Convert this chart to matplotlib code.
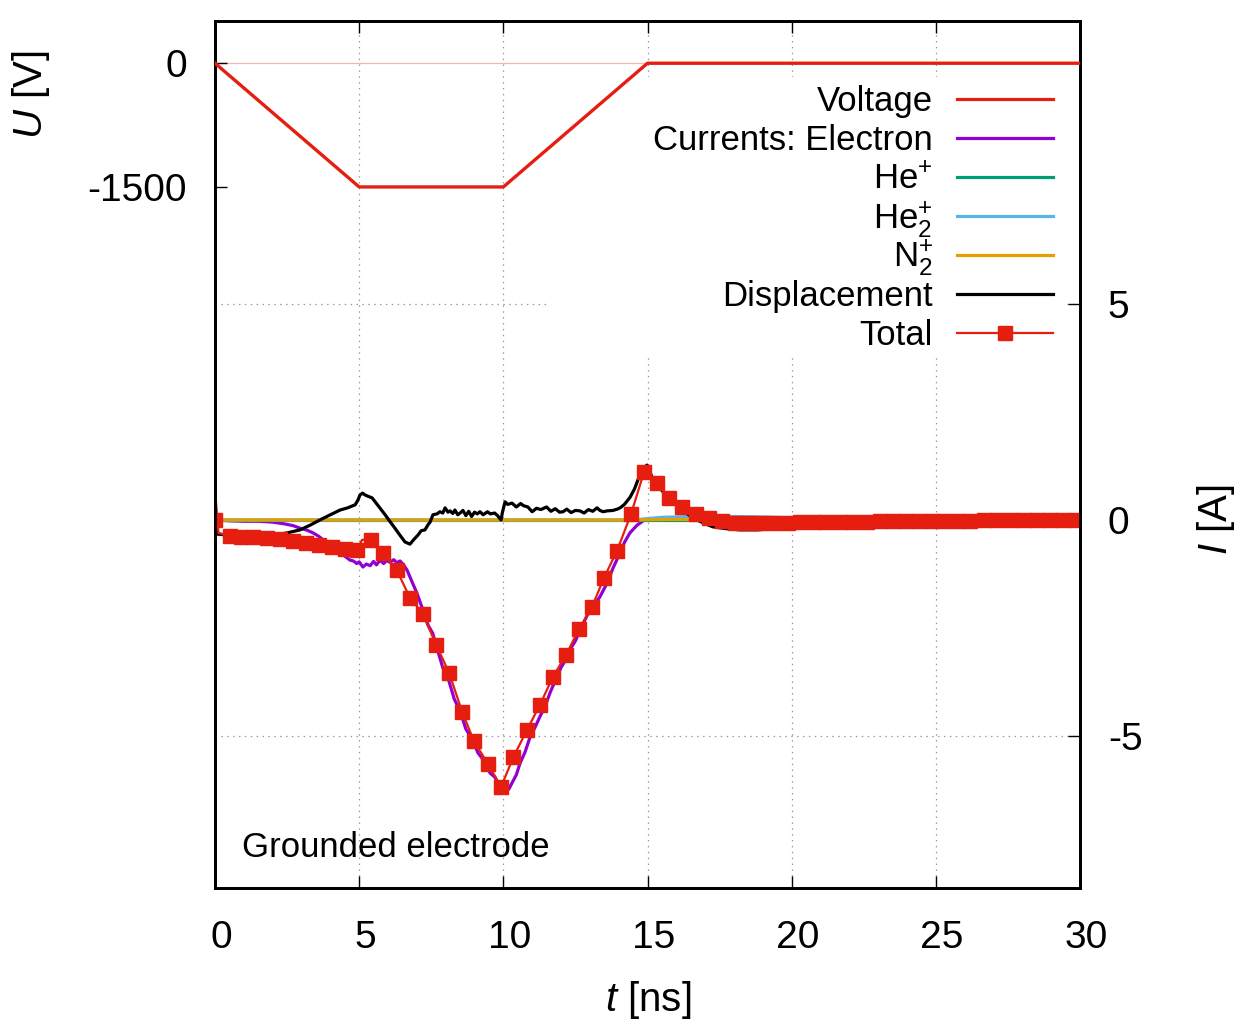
import matplotlib
matplotlib.use('Agg')
import matplotlib.pyplot as plt
from matplotlib.patches import Rectangle
import matplotlib.transforms as mtransforms

plt.rcParams['font.family'] = ['Liberation Sans', 'DejaVu Sans']
plt.rcParams['mathtext.fontset'] = 'custom'
plt.rcParams['mathtext.rm'] = 'Liberation Sans'
plt.rcParams['mathtext.it'] = 'Liberation Sans:italic'
plt.rcParams['mathtext.bf'] = 'Liberation Sans:bold'
plt.rcParams['axes.unicode_minus'] = False

# ---------------- data ----------------
volt_t = [0, 5, 10, 15, 30]
volt_u = [0, -1500, -1500, 0, 0]

elec_t = [0, 0.5, 1.0, 1.5, 2.0, 2.4, 2.7, 2.95, 3.2, 3.4, 3.6, 3.75, 4.0, 4.23, 4.45,
          4.68, 4.8, 4.92, 5.0, 5.13, 5.25, 5.38, 5.5, 5.6, 5.72, 5.85, 5.95, 6.07, 6.2,
          6.3, 6.42, 6.55, 6.66, 6.8, 7.0, 7.21, 7.4, 7.55, 7.7, 7.9, 8.1, 8.3, 8.5, 8.7,
          8.85, 9.0, 9.12, 9.3, 9.54, 9.7, 9.89, 10.06, 10.2, 10.3, 10.45, 10.58, 10.75,
          10.93, 11.1, 11.25, 11.38, 11.5, 11.62, 11.8, 12.0, 12.15, 12.31, 12.5, 12.66,
          12.9, 13.11, 13.35, 13.6, 13.8, 14.05, 14.2, 14.39, 14.64, 14.85, 15.0, 16, 18,
          20, 30]
elec_i = [0, -0.02, -0.03, -0.03, -0.05, -0.09, -0.13, -0.19, -0.24, -0.30, -0.38, -0.46,
          -0.57, -0.69, -0.81, -0.93, -0.95, -1.01, -0.97, -1.09, -1.02, -1.06, -0.96,
          -1.04, -0.93, -1.01, -0.94, -0.98, -0.92, -0.99, -0.95, -1.05, -1.16, -1.38,
          -1.69, -2.08, -2.45, -2.62, -2.97, -3.42, -3.70, -4.15, -4.42, -4.84, -5.00,
          -5.21, -5.39, -5.55, -5.86, -5.95, -6.18, -6.32, -6.22, -6.09, -5.90, -5.63,
          -5.38, -5.02, -4.80, -4.58, -4.40, -4.22, -4.00, -3.72, -3.42, -3.25, -3.00,
          -2.80, -2.55, -2.22, -2.01, -1.78, -1.46, -1.12, -0.76, -0.52, -0.30, -0.12,
          -0.02, 0.01, 0.02, 0.01, 0.0, 0.0]

hep_t = [0, 15, 30]
hep_i = [0, 0, 0]

he2p_t = [0, 14.5, 15.0, 15.5, 16.5, 18.0, 19.0, 20.0, 22.0, 25.0, 30.0]
he2p_i = [0, 0, 0.03, 0.06, 0.08, 0.08, 0.07, 0.05, 0.03, 0.02, 0.01]

n2p_t = [0, 14.5, 15.5, 17.0, 20.0, 30.0]
n2p_i = [0, 0, 0.01, 0.01, 0.0, 0.0]

disp_t = [0, 0.1, 0.5, 1.0, 1.5, 2.0, 2.5, 2.95, 3.3, 3.64, 4.0, 4.34, 4.6, 4.86, 4.95,
          5.03, 5.12, 5.2, 5.3, 5.45, 5.6, 5.75, 5.9, 6.05, 6.24, 6.4, 6.59, 6.76, 6.9,
          7.04, 7.15, 7.28, 7.4, 7.46, 7.56, 7.7, 7.8, 7.9, 7.98, 8.08, 8.15, 8.25, 8.32,
          8.42, 8.5, 8.6, 8.7, 8.8, 8.9, 9.0, 9.1, 9.19, 9.3, 9.45, 9.55, 9.7, 9.8, 9.92,
          9.97, 10.06, 10.15, 10.3, 10.45, 10.6, 10.7, 10.85, 11.0, 11.15, 11.3, 11.5,
          11.65, 11.8, 11.95, 12.07, 12.2, 12.35, 12.5, 12.66, 12.8, 12.95, 13.1, 13.25,
          13.35, 13.46, 13.6, 13.8, 13.95, 14.05, 14.2, 14.4, 14.55, 14.67, 14.8, 14.9,
          14.98, 15.08, 15.19, 15.35, 15.54, 15.8, 16.13, 16.4, 16.72, 17.0, 17.27, 17.7,
          18.2, 18.8, 19.5, 20.2, 21, 22, 24, 26, 30]
disp_i = [0.0, -0.33, -0.35, -0.36, -0.36, -0.36, -0.30, -0.23, -0.12, 0.0, 0.12, 0.23,
          0.28, 0.35, 0.45, 0.58, 0.62, 0.58, 0.55, 0.51, 0.38, 0.25, 0.12, -0.02, -0.19,
          -0.34, -0.51, -0.56, -0.45, -0.35, -0.25, -0.23, -0.10, -0.05, 0.12, 0.14, 0.19,
          0.16, 0.28, 0.18, 0.21, 0.15, 0.23, 0.12, 0.16, 0.22, 0.10, 0.20, 0.08, 0.18,
          0.14, 0.19, 0.12, 0.19, 0.14, 0.16, 0.10, 0.0, 0.18, 0.42, 0.36, 0.39, 0.30,
          0.38, 0.33, 0.30, 0.19, 0.27, 0.24, 0.30, 0.20, 0.26, 0.18, 0.19, 0.25, 0.17,
          0.22, 0.21, 0.16, 0.24, 0.20, 0.28, 0.22, 0.19, 0.21, 0.22, 0.25, 0.28, 0.36,
          0.53, 0.72, 0.93, 1.12, 1.22, 1.27, 1.12, 0.93, 0.80, 0.65, 0.45, 0.28, 0.13,
          0.0, -0.09, -0.16, -0.20, -0.23, -0.23, -0.20, -0.16, -0.12, -0.09, -0.06,
          -0.04, -0.02]

# Total current: marker samples
tot_t = [0.0, 0.52, 0.90, 1.32, 1.80, 2.25, 2.71, 3.16, 3.61, 4.06, 4.51, 4.93, 5.41,
         5.83, 6.31, 6.76, 7.21, 7.67, 8.12, 8.57, 8.98, 9.47, 9.92, 10.35, 10.82, 11.27,
         11.72, 12.17, 12.63, 13.08, 13.49, 13.94, 14.43, 14.88, 15.33, 15.75, 16.20,
         16.68, 17.13, 17.59, 18.04, 18.50, 18.95, 19.40, 19.86, 20.30, 20.77, 21.20,
         21.68, 22.13, 22.60, 23.05, 23.50, 23.95, 24.40, 24.87, 25.30, 25.77, 26.20,
         26.68, 27.13, 27.60, 28.05, 28.50, 28.95, 29.40, 29.87]
tot_i = [0.0, -0.37, -0.39, -0.39, -0.42, -0.44, -0.49, -0.53, -0.58, -0.62, -0.67, -0.69,
         -0.46, -0.76, -1.17, -1.80, -2.18, -2.89, -3.54, -4.44, -5.12, -5.65, -6.18,
         -5.49, -4.86, -4.28, -3.63, -3.13, -2.52, -2.01, -1.34, -0.72, 0.14, 1.11, 0.86,
         0.51, 0.30, 0.14, 0.05, -0.02, -0.07, -0.07, -0.07, -0.06, -0.06, -0.05, -0.05,
         -0.05, -0.04, -0.04, -0.04, -0.03, -0.03, -0.03, -0.03, -0.02, -0.02, -0.02,
         -0.02, -0.01, -0.01, -0.01, -0.01, -0.01, 0.0, 0.0, 0.0]
# extra line-only samples of Total (start spike and bump near 5 ns)
tot_extra_t = [0.03, 0.12, 5.1]
tot_extra_i = [0.45, -0.30, -0.46]

x_ticks = [0, 5, 10, 15, 20, 25, 30]
u_ticks = [0, -1500]
i_ticks = [-5, 0, 5]

labels = ['Voltage', 'Currents: Electron', 'He$^{+}$', 'He$_{2}^{+}$', 'N$_{2}^{+}$',
          'Displacement', 'Total']

# ---------------- style ----------------
RED = '#e51e10'
PURPLE = '#9400d3'
GREEN = '#009e73'
BLUE = '#56b4e9'
ORANGE = '#e69f00'
BLACK = '#000000'
W, H = 1245, 1035

fig = plt.figure(figsize=(W / 100, H / 100), dpi=100)
L, R, T, B = 215, 1080, 21, 888
ax = fig.add_axes([L / W, (H - B) / H, (R - L) / W, (B - T) / H])
ax_u = ax.twinx()
ax.yaxis.tick_right()
ax.yaxis.set_label_position('right')
ax_u.yaxis.tick_left()
ax_u.yaxis.set_label_position('left')

ax.set_xlim(0, 30)
ax.set_ylim(-8.52, 11.55)
ax_u.set_ylim(-10000, 512)

# grid
ax.set_axisbelow(True)
ax.grid(True, color='#9a9a9a', lw=0.9, linestyle=(0, (1.2, 3.5)))

# white key background (behind data)
ax.add_patch(Rectangle((0.387, 0.615), 0.597, 0.32, transform=ax.transAxes,
                       facecolor='white', edgecolor='none', zorder=1))

lw = 2.3
ax.plot(elec_t, elec_i, color=PURPLE, lw=lw, zorder=2)
ax.plot(hep_t, hep_i, color=GREEN, lw=lw, zorder=2.1)
ax.plot(he2p_t, he2p_i, color=BLUE, lw=lw, zorder=2.2)
ax.plot(n2p_t, n2p_i, color=ORANGE, lw=lw, zorder=2.3)
ax.plot(disp_t, disp_i, color=BLACK, lw=lw, zorder=2.4)

line_pts = sorted(zip(tot_t + tot_extra_t, tot_i + tot_extra_i))
ax.plot([p[0] for p in line_pts], [p[1] for p in line_pts], color=RED, lw=1.6, zorder=2.5)
ax.plot(tot_t, tot_i, linestyle='none', marker='s', ms=9.6, color=RED, mec=RED, zorder=2.6)

# voltage on left axis
ax_u.axhline(0, color='#f5b5b0', lw=0.9, zorder=1)
ax_u.plot(volt_t, volt_u, color=RED, lw=2.4, zorder=3)

# ticks
ax.set_xticks(x_ticks)
ax.set_xticklabels([str(v) for v in x_ticks])
ax.set_yticks(i_ticks)
ax.set_yticklabels([str(v) for v in i_ticks])
ax_u.set_yticks(u_ticks)
ax_u.set_yticklabels([str(v) for v in u_ticks])

ax.tick_params(axis='x', direction='in', length=8.6, width=1, top=True, bottom=True,
               labelsize=28, pad=23)
ax.tick_params(axis='y', direction='in', length=8.6, width=1, left=False, right=True,
               labelleft=False, labelright=True, labelsize=28, pad=20)
ax_u.tick_params(axis='y', direction='in', length=8.6, width=1, left=True, right=False,
                 labelleft=True, labelright=False, labelsize=28, pad=20)

offset = mtransforms.ScaledTranslation(6 / 100, 0, fig.dpi_scale_trans)
for lab in ax.get_xticklabels():
    lab.set_transform(lab.get_transform() + offset)

for a in (ax, ax_u):
    for s in a.spines.values():
        s.set_linewidth(2.0)

# axis labels
fig.text(648 / W, 1 - 1000 / H, r'$t$ [ns]', fontsize=29, ha='center', va='center')
fig.text(31 / W, 1 - 95 / H, r'$U$ [V]', fontsize=29, ha='center', va='center', rotation=90)
fig.text(1216 / W, 1 - 520 / H, r'$I$ [A]', fontsize=29, ha='center', va='center', rotation=90)

# annotation
ax.text((242 - L) / (R - L), (B - 857) / (B - T), 'Grounded electrode', fontsize=25,
        ha='left', va='baseline', transform=ax.transAxes)

# key
key_colors = [RED, PURPLE, GREEN, BLUE, ORANGE, BLACK, RED]
row_y = [99.3, 138.3, 177.3, 216.0, 255.0, 294.0, 333.3]
x0 = (957 - L) / (R - L)
x1 = (1053 - L) / (R - L)
xt = (933 - L) / (R - L)
for k, (lab, col, yp) in enumerate(zip(labels, key_colors, row_y)):
    yf = (B - yp) / (B - T)
    yb = (B - (yp + 12)) / (B - T)
    lwk = 1.6 if k == 6 else lw
    ax_u.plot([x0, x1], [yf, yf], color=col, lw=lwk, transform=ax_u.transAxes,
              clip_on=False, zorder=5)
    if k == 6:
        ax_u.plot([(x0 + x1) / 2], [yf], marker='s', ms=9.6, color=col,
                  transform=ax_u.transAxes, clip_on=False, zorder=5)
    ax_u.text(xt, yb, lab, fontsize=25, ha='right', va='baseline',
              transform=ax_u.transAxes, zorder=5)

ax_u.set_xlim(0, 30)
ax_u.set_ylim(-10000, 512)

fig.savefig('out.png', dpi=100)
